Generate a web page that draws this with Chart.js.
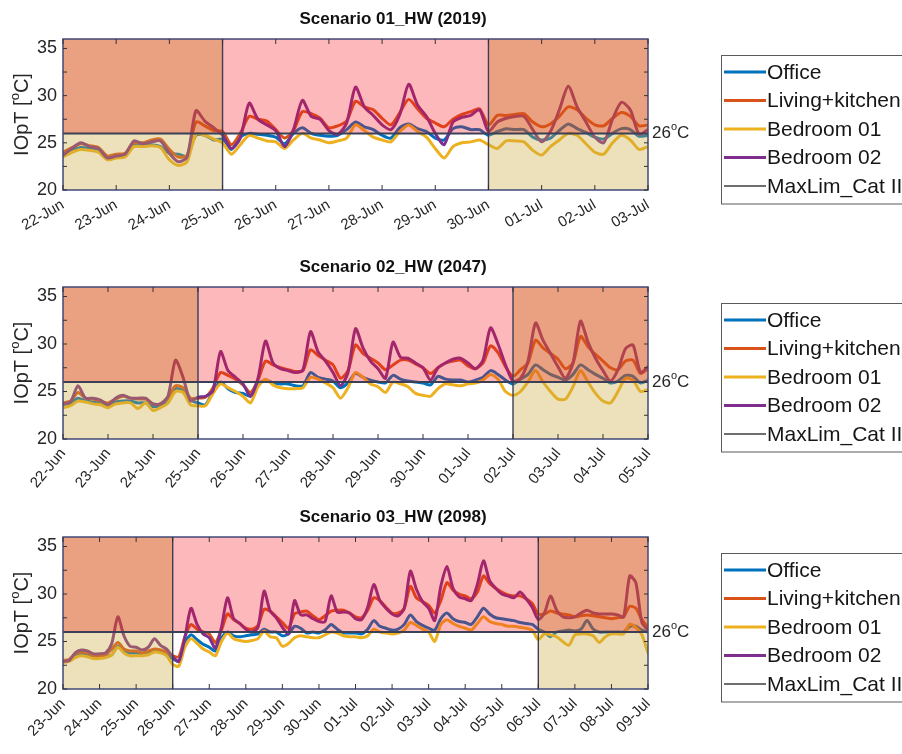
<!DOCTYPE html>
<html>
<head>
<meta charset="utf-8">
<title>Indoor operative temperature – heatwave scenarios</title>
<script src="https://cdn.jsdelivr.net/npm/chart.js@4.4.1/dist/chart.umd.min.js"></script>
<style>
  html, body { margin: 0; padding: 0; background: #fff; }
  #wrap { position: relative; width: 902px; height: 754px; overflow: hidden; }
  #wrap canvas { position: absolute; left: 0; }
</style>
</head>
<body>
<div id="wrap"></div>
<script>
// Indoor operative temperature (IOpT, °C), 4-hourly readings per room.
const SAMPLE_STEP = 1 / 6;          // days between readings
const MAX_LIM = 26;                 // MaxLim_Cat II threshold, °C
const Y_LABELS = [20, 25, 30, 35];
const Y_MINOR = [20, 22.5, 25, 27.5, 30, 32.5, 35];

const roomNames = ['Office', 'Living+kitchen', 'Bedroom 01', 'Bedroom 02'];
const limitName = 'MaxLim_Cat II';

// ---- Scenario 01_HW (2019) ----
const title1 = 'Scenario 01_HW (2019)';
const days1 = ['22-Jun','23-Jun','24-Jun','25-Jun','26-Jun','27-Jun','28-Jun','29-Jun','30-Jun','01-Jul','02-Jul','03-Jul'];
const heatwave1 = [3, 8];   // day index of heatwave start / end
const office1 = [
  23.8,24.2,24.5,24.4,24.2,23.4, 23.6,23.7,24.8,24.8,24.8,24.6, 23.9,23.8,23.6,25.8,25.8,25.3,
  25.4,24.3,25.6,26.0,25.9,25.8, 25.6,24.9,26.0,26.6,26.0,25.8, 25.7,25.8,26.4,27.2,26.7,26.4,
  25.8,25.5,26.6,27.0,26.5,26.2, 25.5,25.3,26.5,26.7,26.4,26.4, 25.8,26.2,26.5,26.4,26.4,25.6,
  25.3,25.5,26.3,27.0,26.5,26.1, 25.6,25.4,26.0,26.5,26.4,25.7, 25.8];
const living1 = [
  24.0,24.5,24.9,24.7,24.5,23.6, 23.8,23.9,25.0,25.0,25.3,25.4, 24.3,23.5,23.7,27.2,26.8,26.3,
  26.2,24.8,26.0,27.8,27.5,27.3, 26.4,25.5,26.3,28.3,28.1,27.6, 26.6,26.8,27.3,29.4,28.8,28.5,
  27.6,26.9,28.2,29.6,28.6,27.6, 27.1,26.7,27.5,28.0,28.3,28.6, 26.9,27.9,27.9,28.0,28.1,27.2,
  26.7,27.0,27.8,28.8,28.5,27.6, 26.9,26.8,27.6,28.2,27.8,26.8, 26.9];
const bedroom01_1 = [
  23.5,24.0,24.3,24.2,24.0,23.2, 23.4,23.5,24.6,24.6,24.7,24.5, 23.2,22.6,23.0,25.9,25.8,25.4,
  25.0,23.8,24.8,25.8,25.5,25.2, 25.1,24.4,25.3,26.0,25.5,25.3, 25.0,25.2,25.5,26.9,26.3,25.6,
  25.3,25.1,26.2,26.9,26.2,25.6, 24.4,23.4,24.6,25.0,25.1,25.3, 24.8,24.4,25.2,25.2,25.1,24.2,
  23.7,24.6,25.3,26.0,25.8,24.9, 24.0,23.8,25.0,25.8,25.3,24.3, 24.6];
const bedroom02_1 = [
  23.7,24.4,25.0,24.6,24.4,23.4, 23.6,23.8,25.2,24.9,25.1,25.2, 23.9,23.0,23.5,28.4,27.3,26.6,
  25.8,24.4,25.5,29.2,27.5,26.9, 26.3,24.6,26.4,29.5,27.8,27.5, 26.3,25.9,27.1,30.9,28.8,27.9,
  26.9,26.4,28.0,31.2,29.0,27.8, 26.0,24.8,27.2,27.7,27.9,28.5, 26.2,27.2,27.6,27.8,27.8,26.4,
  25.1,26.2,28.5,31.0,28.8,27.2, 25.6,25.0,27.5,29.3,28.5,25.9, 26.4];

// ---- Scenario 02_HW (2047) ----
const title2 = 'Scenario 02_HW (2047)';
const days2 = ['22-Jun','23-Jun','24-Jun','25-Jun','26-Jun','27-Jun','28-Jun','29-Jun','30-Jun','01-Jul','02-Jul','03-Jul','04-Jul','05-Jul'];
const heatwave2 = [3, 10];
const office2 = [
  23.6,23.8,24.3,24.0,23.9,23.8, 23.5,23.9,24.0,24.0,23.8,23.8, 23.4,23.5,23.9,25.3,25.1,24.1,
  23.8,23.6,25.0,26.0,25.3,24.9, 24.8,24.5,25.8,26.2,25.9,25.8, 25.8,25.6,25.6,27.0,26.5,26.3,
  26.1,25.4,25.9,26.9,26.5,26.2, 26.0,25.9,26.7,26.3,26.1,26.0, 25.9,25.7,26.6,26.3,26.2,26.2,
  26.0,26.2,26.5,27.2,26.8,26.2, 25.8,26.3,26.8,27.8,27.3,26.8, 26.5,26.2,26.8,27.8,27.3,26.8,
  26.4,25.9,26.1,26.7,26.6,25.9, 26.2];
const living2 = [
  23.8,24.0,24.9,24.3,24.2,24.0, 23.8,24.2,24.5,24.3,24.2,24.2, 23.7,23.7,24.4,25.6,25.4,24.3,
  24.3,24.4,25.4,27.0,26.7,26.3, 25.7,24.9,26.2,28.2,27.8,27.5, 27.3,27.1,27.2,29.4,28.8,28.3,
  27.8,26.4,27.2,29.9,29.0,28.5, 28.0,27.3,27.8,28.3,28.3,27.9, 27.5,26.9,27.5,28.0,28.2,28.3,
  27.7,27.4,28.0,29.8,29.1,27.6, 26.6,27.3,28.0,30.4,29.6,29.0, 28.4,27.4,28.0,30.8,29.7,28.9,
  28.2,27.5,27.3,28.2,28.3,26.9, 27.4];
const bedroom01_2 = [
  23.3,23.5,24.0,23.9,23.7,23.6, 23.3,23.7,23.8,23.8,23.2,23.8, 23.0,23.3,23.8,25.0,24.9,23.6,
  23.5,23.5,24.8,25.8,25.4,25.0, 24.5,23.8,25.5,26.3,25.7,25.4, 25.3,25.3,25.4,26.5,26.3,25.9,
  25.4,24.3,25.4,27.0,26.5,25.8, 25.5,24.9,26.0,25.8,25.5,24.8, 24.6,24.5,25.3,25.8,25.7,25.6,
  25.8,25.9,26.2,26.8,26.3,25.0, 24.6,25.0,26.0,27.2,26.0,25.0, 24.2,24.2,25.5,27.2,26.0,24.8,
  24.0,23.8,25.0,26.4,26.2,25.0, 25.2];
const bedroom02_2 = [
  23.7,23.9,25.6,24.3,24.3,24.1, 23.6,24.3,24.6,24.3,24.3,24.3, 23.7,23.7,24.5,28.3,26.5,24.0,
  24.4,24.5,25.1,29.2,27.2,26.5, 25.8,24.5,26.4,30.3,28.0,27.4, 27.2,27.0,27.3,31.3,29.2,28.2,
  27.0,25.6,27.0,31.6,29.6,28.2, 27.4,26.4,30.2,28.6,28.5,28.0, 27.5,26.2,27.5,28.0,28.4,28.5,
  28.0,27.4,28.3,31.7,30.0,27.8, 26.1,26.4,28.2,32.2,30.4,29.0, 27.6,26.4,28.0,32.4,30.2,28.5,
  27.2,26.1,27.3,29.5,29.9,27.0, 27.6];

// ---- Scenario 03_HW (2098) ----
const title3 = 'Scenario 03_HW (2098)';
const days3 = ['23-Jun','24-Jun','25-Jun','26-Jun','27-Jun','28-Jun','29-Jun','30-Jun','01-Jul','02-Jul','03-Jul','04-Jul','05-Jul','06-Jul','07-Jul','08-Jul','09-Jul'];
const heatwave3 = [3, 13];
const office3 = [
  23.0,23.0,23.5,23.7,23.5,23.3, 23.3,23.4,23.6,24.5,24.0,23.8, 23.8,23.7,23.8,24.0,23.9,23.6,
  23.2,22.9,24.9,25.7,25.2,24.7, 24.4,24.0,25.4,26.0,25.6,25.5, 25.6,25.7,25.8,26.3,26.0,26.0,
  25.6,25.8,26.6,26.4,25.9,26.0, 25.9,26.2,26.8,26.3,25.9,25.9, 25.9,25.8,26.3,27.2,26.6,26.4,
  26.2,26.3,26.8,27.8,27.1,26.7, 26.4,26.2,27.4,28.0,27.4,27.1, 27.0,26.8,27.6,28.5,27.9,27.5,
  27.4,27.3,27.2,27.0,26.9,26.8, 26.3,26.0,25.5,26.0,26.1,26.2, 26.1,26.3,27.2,26.3,26.0,26.0,
  26.0,26.0,26.0,26.6,26.6,26.2, 26.0];
const living3 = [
  23.0,23.1,23.7,23.9,23.8,23.5, 23.5,23.6,24.2,24.9,24.2,24.0, 24.0,23.8,24.0,24.2,24.1,23.9,
  23.5,23.4,25.5,26.8,26.3,26.0, 25.8,24.9,26.2,27.9,27.3,26.9, 26.4,26.3,26.7,28.4,28.2,27.6,
  27.0,26.4,27.9,28.1,28.2,27.7, 27.3,27.7,28.2,28.3,28.3,28.0, 27.6,27.5,28.3,29.6,29.3,28.6,
  28.0,28.0,28.5,30.8,29.6,29.2, 28.8,28.0,29.3,31.2,30.4,30.0, 29.8,29.5,30.2,31.9,31.1,30.6,
  30.2,29.9,29.8,29.8,29.5,29.0, 27.9,27.9,28.2,28.0,27.9,27.8, 27.6,27.7,27.8,27.7,27.6,27.5,
  27.4,27.5,27.6,28.7,28.5,27.3, 26.5];
const bedroom01_3 = [
  22.8,22.9,23.3,23.5,23.4,23.2, 23.2,23.3,23.6,24.4,23.8,23.5, 23.5,23.5,23.6,23.9,23.8,23.5,
  22.6,22.4,24.4,25.3,24.8,24.2, 23.9,23.5,25.0,25.9,25.3,25.1, 25.0,25.1,25.3,26.1,25.5,25.4,
  24.5,24.8,25.4,25.6,25.5,25.4, 25.4,25.7,26.0,25.9,25.6,25.5, 25.5,25.4,25.6,26.3,26.0,25.9,
  25.8,25.9,26.2,27.0,26.7,26.3, 26.0,25.0,26.8,27.3,26.9,26.6, 26.4,26.2,26.9,27.6,27.1,26.9,
  26.8,26.6,26.6,26.5,26.4,26.2, 25.2,25.8,25.7,25.5,25.0,24.6, 25.7,25.8,25.8,25.6,24.9,25.5,
  25.8,25.8,25.8,26.8,26.5,25.7, 23.8];
const bedroom02_3 = [
  22.9,23.0,23.8,24.1,24.0,23.7, 23.7,23.8,24.8,27.6,25.6,24.5, 24.4,24.1,24.4,25.3,24.6,24.2,
  23.4,22.9,25.4,28.5,26.8,25.8, 25.4,24.3,26.5,29.6,27.4,26.9, 26.3,26.0,26.5,30.3,28.2,27.5,
  26.5,25.8,29.3,27.8,27.8,27.4, 27.1,27.1,29.8,28.1,28.1,28.0, 27.4,27.3,28.6,31.0,29.3,28.5,
  27.9,27.7,28.5,32.4,30.5,29.2, 28.5,27.2,30.8,32.9,30.6,29.7, 29.5,29.3,31.0,33.5,31.4,30.6,
  30.0,29.8,29.6,30.2,29.5,28.6, 27.3,28.0,29.8,28.3,27.6,27.5, 27.6,28.0,28.3,28.0,27.9,27.9,
  27.9,27.8,27.6,31.9,31.2,27.0, 26.2];

// ---- styling ----
const FONT = '"Liberation Sans", Arial, Helvetica, sans-serif';
const TEXT = '#262626';
const ROOM_COLORS = ['#0072BD', '#D95319', '#EDB120', '#7E2F8E'];
const LIMIT_COLOR = '#3b4058';
const LEGEND_LIMIT_COLOR = '#6e6e6e';
const FILL_OUTSIDE_HOT = 'rgba(217, 83, 25, 0.55)';
const FILL_OUTSIDE_COOL = 'rgba(200, 170, 60, 0.35)';
const FILL_HEATWAVE = 'rgba(250, 20, 30, 0.30)';
const FRAME = '#414a78';

const panels = [
  { id: 1, title: title1, days: days1, hw: heatwave1, rooms: [office1, living1, bedroom01_1, bedroom02_1],
    top: 0, height: 250, plotTop: 39, plotBottom: 190, rotation: 30 },
  { id: 2, title: title2, days: days2, hw: heatwave2, rooms: [office2, living2, bedroom01_2, bedroom02_2],
    top: 248, height: 250, plotTop: 39, plotBottom: 191, rotation: 50 },
  { id: 3, title: title3, days: days3, hw: heatwave3, rooms: [office3, living3, bedroom01_3, bedroom02_3],
    top: 498, height: 256, plotTop: 39, plotBottom: 191, rotation: 45 }
];

const PLOT_LEFT = 63, PLOT_RIGHT = 648, W = 902;
const TITLE_CENTER_X = 393;

function drawSuperscriptText(ctx, parts, x, y, align) {
  // parts: [text, fontSize, raise]
  let total = 0;
  const widths = parts.map(([t, s]) => { ctx.font = `${s}px ${FONT}`; const w = ctx.measureText(t).width; total += w; return w; });
  let xx = align === 'center' ? x - total / 2 : x;
  ctx.textAlign = 'left';
  ctx.textBaseline = 'middle';
  parts.forEach(([t, s, raise], i) => {
    ctx.font = `${s}px ${FONT}`;
    ctx.fillText(t, xx, y - raise);
    xx += widths[i];
  });
}

function decorations(p) {
  const nDays = p.days.length - 1;
  return {
    id: 'decor' + p.id,
    // translucent period shading laid over the room traces, below the limit line
    afterDatasetDraw(chart, args) {
      if (args.index !== 3) return;
      const { ctx, chartArea: a, scales: { x, y } } = chart;
      const y26 = y.getPixelForValue(MAX_LIM);
      const x0 = x.getPixelForValue(p.hw[0]);
      const x1 = x.getPixelForValue(p.hw[1]);
      ctx.save();
      ctx.fillStyle = FILL_OUTSIDE_HOT;
      ctx.fillRect(a.left, a.top, x0 - a.left, y26 - a.top);
      ctx.fillRect(x1, a.top, a.right - x1, y26 - a.top);
      ctx.fillStyle = FILL_OUTSIDE_COOL;
      ctx.fillRect(a.left, y26, x0 - a.left, a.bottom - y26);
      ctx.fillRect(x1, y26, a.right - x1, a.bottom - y26);
      ctx.fillStyle = FILL_HEATWAVE;
      ctx.fillRect(x0, a.top, x1 - x0, y26 - a.top);
      ctx.strokeStyle = '#3a3f55';
      ctx.lineWidth = 1.4;
      [x0, x1].forEach(xx => { ctx.beginPath(); ctx.moveTo(xx, a.top); ctx.lineTo(xx, a.bottom); ctx.stroke(); });
      ctx.restore();
    },
    afterDraw(chart) {
      const { ctx, chartArea: a, scales: { x, y } } = chart;
      ctx.save();
      // frame
      ctx.strokeStyle = FRAME;
      ctx.lineWidth = 1.5;
      ctx.strokeRect(a.left, a.top, a.right - a.left, a.bottom - a.top);
      // inward tick marks
      ctx.strokeStyle = '#333';
      ctx.lineWidth = 1;
      ctx.beginPath();
      for (let i = 0; i <= nDays; i++) {
        const px = x.getPixelForValue(i);
        ctx.moveTo(px, a.bottom); ctx.lineTo(px, a.bottom - 5);
        ctx.moveTo(px, a.top); ctx.lineTo(px, a.top + 5);
      }
      Y_MINOR.forEach(v => {
        const py = y.getPixelForValue(v);
        ctx.moveTo(a.left, py); ctx.lineTo(a.left + 4, py);
        ctx.moveTo(a.right, py); ctx.lineTo(a.right - 4, py);
      });
      ctx.stroke();

      // title
      ctx.fillStyle = '#111';
      ctx.font = `bold 17px ${FONT}`;
      ctx.textAlign = 'center';
      ctx.textBaseline = 'middle';
      ctx.fillText(p.title, TITLE_CENTER_X, a.top - 20);

      // y-axis title
      ctx.fillStyle = TEXT;
      ctx.save();
      ctx.translate(22, (a.top + a.bottom) / 2);
      ctx.rotate(-Math.PI / 2);
      drawSuperscriptText(ctx, [['IOpT [', 20, 0], ['o', 13, 7], ['C]', 20, 0]], 0, 0, 'center');
      ctx.restore();

      // threshold label
      drawSuperscriptText(ctx, [['26', 17, 0], ['o', 11, 6], ['C', 17, 0]], a.right + 4, y.getPixelForValue(MAX_LIM), 'left');

      // legend
      const lt = a.top + 16, step = 28.5, lx = 721;
      const items = chart.data.datasets;
      ctx.fillStyle = '#fff';
      ctx.fillRect(lx, lt, W - lx + 20, step * items.length + 6);
      ctx.strokeStyle = '#5a5a5a';
      ctx.lineWidth = 1;
      ctx.strokeRect(lx + 0.5, lt + 0.5, W - lx + 20, step * items.length + 6);
      items.forEach((ds, i) => {
        const cy = lt + 17 + i * step;
        ctx.strokeStyle = i < 4 ? ds.borderColor : LEGEND_LIMIT_COLOR;
        ctx.lineWidth = i < 4 ? 3 : 2;
        ctx.beginPath(); ctx.moveTo(lx + 3, cy); ctx.lineTo(lx + 45, cy); ctx.stroke();
        ctx.fillStyle = '#161616';
        ctx.font = `21px ${FONT}`;
        ctx.textAlign = 'left';
        ctx.textBaseline = 'middle';
        ctx.fillText(ds.label, lx + 46, cy + 1);
      });
      ctx.restore();
    }
  };
}

const wrap = document.getElementById('wrap');
panels.forEach(p => {
  const nDays = p.days.length - 1;
  const canvas = document.createElement('canvas');
  canvas.width = W; canvas.height = p.height;
  canvas.style.top = p.top + 'px';
  wrap.appendChild(canvas);

  const roomSets = p.rooms.map((vals, r) => ({
    label: roomNames[r],
    data: vals.map((v, i) => ({ x: i * SAMPLE_STEP, y: v })),
    borderColor: ROOM_COLORS[r],
    borderWidth: 3,
    pointRadius: 0,
    tension: 0.25,
    borderJoinStyle: 'round',
    borderCapStyle: 'round',
    order: 5 - r
  }));
  const limitSet = {
    label: limitName,
    data: [{ x: 0, y: MAX_LIM }, { x: nDays, y: MAX_LIM }],
    borderColor: LIMIT_COLOR,
    borderWidth: 2,
    pointRadius: 0,
    order: 0
  };

  new Chart(canvas.getContext('2d'), {
    type: 'line',
    data: { datasets: [...roomSets, limitSet] },
    options: {
      responsive: false,
      animation: false,
      devicePixelRatio: 1,
      events: [],
      layout: { padding: { left: 0, right: W - PLOT_RIGHT, top: p.plotTop, bottom: 0 } },
      plugins: { legend: { display: false }, tooltip: { enabled: false } },
      scales: {
        x: {
          type: 'linear', min: 0, max: nDays,
          grid: { display: false, drawTicks: false }, border: { display: false },
          afterBuildTicks: s => { s.ticks = p.days.map((_, i) => ({ value: i })); },
          ticks: {
            autoSkip: false, minRotation: p.rotation, maxRotation: p.rotation, padding: 6,
            color: TEXT, font: { family: FONT, size: 15 },
            callback: v => p.days[v]
          },
          afterFit: s => { s.height = p.height - p.plotBottom; }
        },
        y: {
          min: 20, max: 36,
          grid: { display: false, drawTicks: false }, border: { display: false },
          afterBuildTicks: s => { s.ticks = Y_LABELS.map(v => ({ value: v })); },
          ticks: { padding: 6, color: TEXT, font: { family: FONT, size: 18 } },
          afterFit: s => { s.width = PLOT_LEFT; }
        }
      }
    },
    plugins: [decorations(p)]
  });
});
</script>
</body>
</html>
